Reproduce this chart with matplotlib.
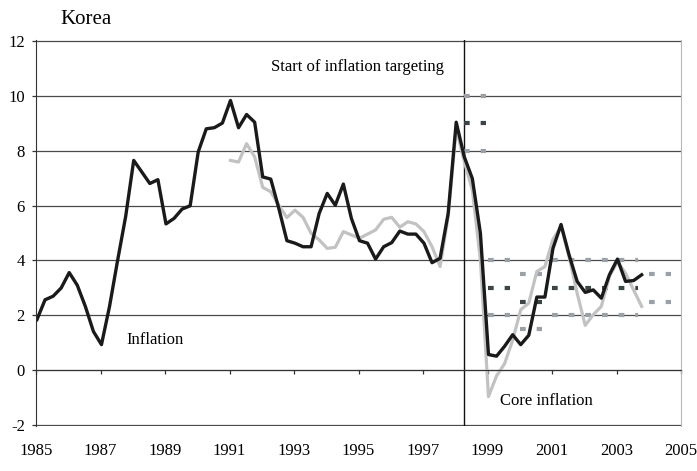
import numpy as np
import matplotlib
matplotlib.use("Agg")
import matplotlib.pyplot as plt

plt.rcParams['font.family'] = ['Liberation Serif', 'DejaVu Serif']
plt.rcParams['lines.scale_dashes'] = False
plt.rcParams['axes.unicode_minus'] = False

# quarterly CPI inflation, 1985Q1 - 2003Q4
inflation = [1.85, 2.57, 2.70, 3.00, 3.56, 3.10, 2.33, 1.42,
             0.94, 2.33, 4.00, 5.60, 7.64, 7.22, 6.80, 6.94,
             5.33, 5.53, 5.87, 5.99, 7.95, 8.79, 8.83, 9.00,
             9.82, 8.83, 9.31, 9.03, 7.04, 6.96, 5.89, 4.72,
             4.63, 4.50, 4.50, 5.71, 6.44, 6.01, 6.78, 5.53,
             4.72, 4.63, 4.05, 4.50, 4.65, 5.07, 4.96, 4.96,
             4.63, 3.92, 4.08, 5.71, 9.03, 7.77, 6.98, 4.99,
             0.58, 0.52, 0.88, 1.30, 0.94, 1.28, 2.67, 2.67,
             4.44, 5.31, 4.20, 3.24, 2.84, 2.93, 2.63, 3.48,
             4.05, 3.24, 3.27, 3.48]

# core inflation, 1991Q1 - 2003Q4
core = [7.64, 7.58, 8.25, 7.77, 6.66, 6.50, 6.01, 5.56,
        5.83, 5.57, 4.99, 4.75, 4.44, 4.48, 5.05, 4.93,
        4.81, 4.96, 5.11, 5.50, 5.57, 5.21, 5.41, 5.33,
        5.05, 4.50, 3.78, 5.60, 8.80, 7.60, 6.56, 4.02,
        -0.95, -0.20, 0.25, 1.10, 2.21, 2.45, 3.60, 3.78,
        4.77, 5.23, 4.14, 2.81, 1.64, 2.03, 2.33, 3.42,
        3.96, 3.54, 2.93, 2.33]

# inflation targets (start, end, low, mid, high)
target_start = [1998.27, 1999.0, 2000.0, 2001.0, 2004.0]
target_end = [1998.96, 1999.7, 2000.7, 2003.66, 2004.7]
target_low = [8, 2, 1.5, 2, 2.5]
target_mid = [9, 3, 2.5, 3, None]
target_high = [10, 4, 3.5, 4, 3.5]

it_start = 1998.27

t_infl = 1985.03 + 0.25 * np.arange(len(inflation))
t_core = 1991.03 + 0.25 * np.arange(len(core))

fig = plt.figure(figsize=(6.97, 4.71), dpi=100)
ax = fig.add_axes([36 / 697, 45 / 471, 645 / 697, 386 / 471])

ax.set_xlim(1985, 2005)
ax.set_ylim(-2.02, 12.02)
ax.set_yticks(np.arange(-2, 13, 2))
ax.set_xticks(np.arange(1985, 2006, 2))

ax.yaxis.grid(True, color='#4a4a4a', lw=0.9)
ax.set_axisbelow(True)

ax.spines['top'].set_visible(False)
ax.spines['right'].set_color('#b8b8b8')
ax.spines['left'].set_color('#333333')
ax.spines['bottom'].set_position(('data', 0))
ax.spines['bottom'].set_color('#333333')

ax.tick_params(axis='y', direction='out', length=3, width=0.9, pad=5,
               labelsize=12, color='#333333')
ax.tick_params(axis='x', direction='out', length=3, width=0.9, pad=49,
               labelsize=12, color='#333333')

ax.axvline(it_start, color='#111111', lw=1.0)

dash = (0, (4.1, 7.9))
for s, e, lo, mi, hi in zip(target_start, target_end, target_low,
                            target_mid, target_high):
    ax.plot([s, e], [hi, hi], color='#9aa0a5', lw=3, linestyle=dash,
            dash_capstyle='butt')
    ax.plot([s, e], [lo, lo], color='#9aa0a5', lw=3, linestyle=dash,
            dash_capstyle='butt')
    if mi is not None:
        ax.plot([s, e], [mi, mi], color='#3b4446', lw=3, linestyle=dash,
                dash_capstyle='butt')

ax.plot(t_core, core, color='#c2c2c2', lw=2.3)
ax.plot(t_infl, inflation, color='#1a1a1a', lw=2.4)

ax.text(1992.3, 11.05, 'Start of inflation targeting', fontsize=12,
        ha='left', va='center')
ax.text(1987.8, 1.12, 'Inflation', fontsize=12, ha='left', va='center')
ax.text(1999.4, -1.12, 'Core inflation', fontsize=12, ha='left',
        va='center')
fig.text(60 / 697, 1 - 20 / 471, 'Korea', fontsize=15, ha='left',
         va='center')

fig.savefig('out.png', dpi=100)
